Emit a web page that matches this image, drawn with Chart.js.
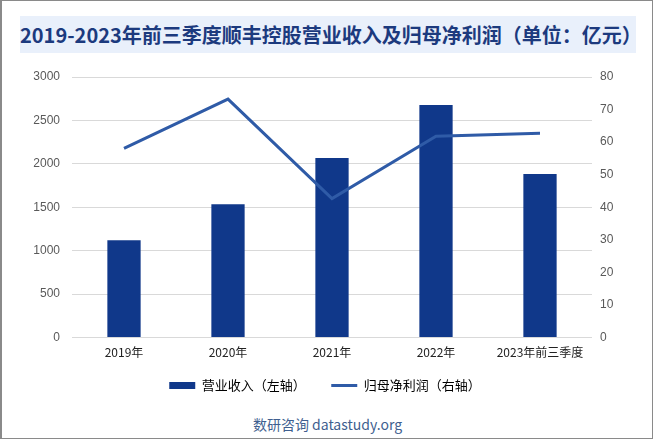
<!DOCTYPE html>
<html>
<head>
<meta charset="utf-8">
<script src="https://cdn.jsdelivr.net/npm/chart.js@4.4.0/dist/chart.umd.min.js"></script>
<style>
  html, body { margin: 0; padding: 0; background: #fff; }
  #frame {
    position: relative; width: 653px; height: 439px; box-sizing: border-box;
    border: 1px solid #8a8a8a; border-left-width: 2px; overflow: hidden;
  }
  #title {
    position: absolute; left: 18px; top: 15px; width: 616px; height: 37px;
    background: #e9f0fb; color: #1c3a7e; text-align: center;
    font: bold 20px "Noto Sans CJK SC", sans-serif; line-height: 37px; white-space: nowrap;
  }
  #wrap { position: absolute; left: 0; top: 56px; width: 651px; height: 345px; }
  #foot {
    position: absolute; left: 0; width: 651px; top: 413px; text-align: center;
    color: #3f5f8f; font: 14px "Noto Sans CJK SC", sans-serif;
  }
</style>
</head>
<body>
<div id="frame">
  <div id="title">2019-2023年前三季度顺丰控股营业收入及归母净利润（单位：亿元）</div>
  <div id="wrap"><canvas id="my-chart"></canvas></div>
  <div id="foot">数研咨询 datastudy.org</div>
</div>
<script>
'use strict';

let categories = ['2019年', '2020年', '2021年', '2022年', '2023年前三季度'];
let revenue = [1120, 1535, 2067, 2677, 1883];
let netProfit = [58.1, 73.2, 42.7, 61.8, 62.7];
let leftTicks = [0, 500, 1000, 1500, 2000, 2500, 3000];
let rightTicks = [0, 10, 20, 30, 40, 50, 60, 70, 80];

let barColor = '#10388a';
let lineColor = '#2f5ba7';

let canvasElement = document.getElementById('my-chart');

Chart.defaults.font.family = '"Liberation Sans", "Noto Sans CJK SC", sans-serif';
Chart.defaults.animation = false;

function renderChart() {
  let chartObj = {
    type: 'bar',
    data: {
      labels: categories,
      datasets: [{
        type: 'line',
        label: '归母净利润（右轴）',
        data: netProfit,
        yAxisID: 'y1',
        borderColor: lineColor,
        borderWidth: 3,
        pointRadius: 0,
        tension: 0,
        order: 0
      },
      {
        label: '营业收入（左轴）',
        data: revenue,
        yAxisID: 'y',
        backgroundColor: barColor,
        categoryPercentage: 1,
        barPercentage: 0.32,
        order: 1
      }]
    },
    options: {
      responsive: true,
      maintainAspectRatio: false,
      layout: { padding: { left: 8, right: 13, top: 20, bottom: 0 } },
      plugins: {
        tooltip: { enabled: false },
        legend: {
          position: 'bottom',
          labels: {
            usePointStyle: true,
            boxWidth: 26,
            boxHeight: 7,
            pointStyleWidth: 26,
            padding: 19,
            color: '#000',
            font: { size: 13, family: '"Noto Sans CJK SC", sans-serif' },
            generateLabels: function () {
              // small trailing space keeps the two items apart like the original
              return [
                { text: '营业收入（左轴）\u2002', fillStyle: barColor, strokeStyle: barColor, lineWidth: 0, pointStyle: 'rect', datasetIndex: 1 },
                { text: '归母净利润（右轴）', fillStyle: lineColor, strokeStyle: lineColor, lineWidth: 3, pointStyle: 'line', datasetIndex: 0 }
              ];
            }
          }
        }
      },
      scales: {
        x: {
          grid: { display: false },
          border: { display: false },
          ticks: { color: '#222', padding: 0, maxRotation: 0, font: { size: 12, family: '"Noto Sans CJK SC", sans-serif' } }
        },
        y: {
          position: 'left',
          min: 0,
          max: 3000,
          afterBuildTicks: function (scale) { scale.ticks = leftTicks.map(v => ({ value: v })); },
          afterFit: function (scale) { scale.width = 62; },
          grid: { color: '#d9d9d9', drawTicks: false },
          border: { display: false },
          ticks: { color: '#595959', padding: 12, font: { size: 12 }, callback: v => String(v) }
        },
        y1: {
          position: 'right',
          min: 0,
          max: 80,
          afterBuildTicks: function (scale) { scale.ticks = rightTicks.map(v => ({ value: v })); },
          afterFit: function (scale) { scale.width = 48; },
          grid: { display: false, drawTicks: false },
          border: { display: false },
          ticks: { color: '#595959', padding: 8, font: { size: 12 }, callback: v => String(v) }
        }
      }
    }
  };
  new Chart(canvasElement, chartObj);
}

renderChart();
</script>
</body>
</html>
